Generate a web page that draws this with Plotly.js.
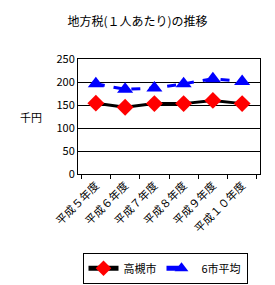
<!DOCTYPE html>
<html><head><meta charset="utf-8">
<script src="https://cdn.plot.ly/plotly-3.0.1.min.js"></script>
<style>html,body{margin:0;padding:0;background:#fff;}</style>
</head><body><div id="chart" style="width:275px;height:285px;"></div>
<script>
var categories = ["平成５年度","平成６年度","平成７年度","平成８年度","平成９年度","平成１０年度"];
var takatsuki = [154, 145, 153, 153, 160, 153];
var avg6 = [196, 184, 187, 196, 207, 201];
var yTicks = [0, 50, 100, 150, 200, 250];
var F = "'Noto Sans CJK JP', 'DejaVu Sans', sans-serif";

var traces = [
  {x: categories, y: takatsuki, name: "高槻市", type: "scatter", mode: "lines+markers",
   line: {color: "#000000", width: 3},
   marker: {symbol: "diamond", color: "#ff0000", size: 13}},
  {x: categories, y: avg6, name: "6市平均", type: "scatter", mode: "lines+markers",
   line: {color: "#0000ff", width: 3, dash: "dash"},
   marker: {symbol: "triangle-up", color: "#0000ff", size: 14}}
];
var layout = {
  width: 275, height: 285,
  margin: {l: 78, r: 15, t: 59, b: 111, autoexpand: false},
  paper_bgcolor: "#fff", plot_bgcolor: "#fff",
  font: {family: F, size: 11, color: "#000"},
  title: {text: "地方税(１人あたり)の推移", font: {family: F, size: 12, color: "#000"}, x: 0.5, xanchor: "center", y: 0.922, yanchor: "middle"},
  showlegend: true,
  legend: {orientation: "h", x: 0.3, xanchor: "left", xref: "container", y: 0.113, yanchor: "top", yref: "container",
    bordercolor: "#000", borderwidth: 1, font: {family: F, size: 11, color: "#000"},
    itemsizing: "constant", itemwidth: 30, tracegroupgap: 0},
  xaxis: {type: "category", showline: true, linecolor: "#000", linewidth: 1, mirror: true, automargin: false,
    ticks: "outside", tickson: "boundaries", ticklen: 4, tickcolor: "#000",
    tickangle: -45, tickfont: {family: F, size: 11, color: "#000"}, showgrid: false, fixedrange: true},
  yaxis: {range: [0, 250], tickvals: yTicks, showline: true, linecolor: "#000", linewidth: 1, mirror: true, automargin: false,
    showgrid: true, gridcolor: "#000", gridwidth: 1, zeroline: false, ticks: "",
    tickfont: {family: F, size: 11, color: "#000"}, fixedrange: true},
  annotations: [{text: "千円", xref: "paper", yref: "paper", x: -0.26, y: 0.5, xanchor: "center", yanchor: "middle",
    showarrow: false, font: {family: F, size: 11, color: "#000"}}]
};
Plotly.newPlot("chart", traces, layout, {displayModeBar: false, staticPlot: true});
</script></body></html>
